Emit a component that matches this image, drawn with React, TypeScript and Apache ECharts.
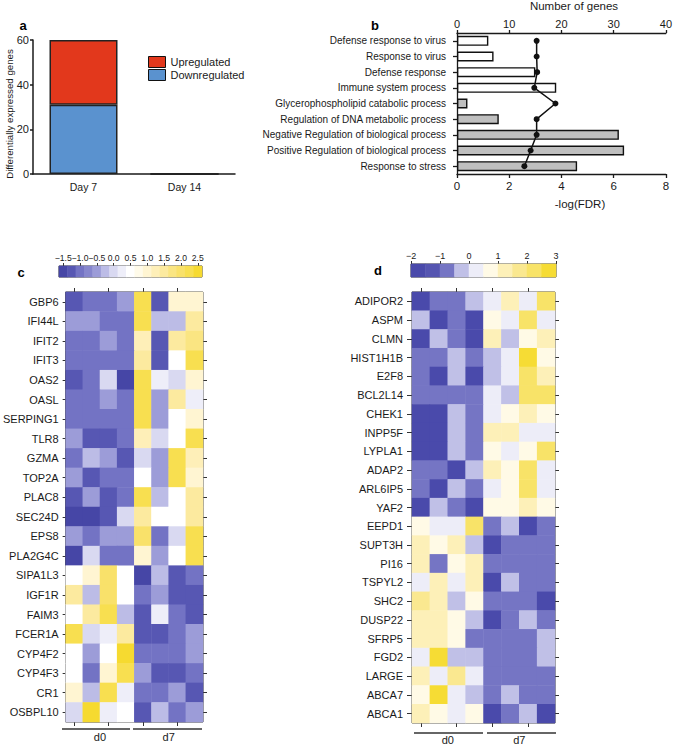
import React, { useEffect, useRef } from "react";
import * as echarts from "echarts";

const FONT = "'Liberation Sans', Arial, Helvetica, sans-serif";

// ---------- Panel a ----------
const days = ["Day 7", "Day 14"];
const downregulated = [31, 0];
const upregulated = [29, 0];
const countTicks = [0, 60, 20];
const countTitle = "Differentially expressed genes";

// ---------- Panel b ----------
const processes = [
  "Defense response to virus",
  "Response to virus",
  "Defense response",
  "Immune system process",
  "Glycerophospholipid catabolic process",
  "Regulation of DNA metabolic process",
  "Negative Regulation of biological process",
  "Positive Regulation of biological process",
  "Response to stress",
];
const processGroup = ["open", "open", "open", "open", "filled", "filled", "filled", "filled", "filled"];
const numberOfGenes = [6, 7, 15, 19, 2, 8, 31, 32, 23];
const negLogFDR = [3.05, 3.05, 3.07, 2.96, 3.77, 3.05, 3.05, 2.82, 2.58];
const genesTicks = [0, 40, 10];
const fdrTicks = [0, 8, 2];

// ---------- Panel c ----------
const sampleGroups = ["d0", "d7"];
const samples = ["d0-1", "d0-2", "d0-3", "d0-4", "d7-1", "d7-2", "d7-3", "d7-4"];
const cGenes = [
  "GBP6", "IFI44L", "IFIT2", "IFIT3", "OAS2", "OASL", "SERPING1", "TLR8", "GZMA", "TOP2A", "PLAC8",
  "SEC24D", "EPS8", "PLA2G4C", "SIPA1L3", "IGF1R", "FAIM3", "FCER1A", "CYP4F2", "CYP4F3", "CR1", "OSBPL10",
];
const cValues = [
  [-1.3, -0.9, -0.9, -0.5, 2.3, -1.2, 1.0, 1.0],
  [-0.5, -0.5, -0.9, -0.9, 2.3, -0.2, -0.2, 1.6],
  [-0.9, -0.9, -0.6, -0.9, 1.2, -1.2, 1.4, 1.8],
  [-0.9, -0.9, -0.9, -0.9, 1.5, -1.2, 0.6, 2.3],
  [-1.3, -0.9, 0.0, -1.4, 2.3, 0.2, 0.0, 1.0],
  [-0.9, -0.9, -0.6, -0.9, 2.3, -0.5, 1.4, 0.2],
  [-0.9, -0.9, -0.9, -0.9, 2.3, -0.5, 0.6, 0.9],
  [-0.5, -1.3, -1.3, -0.9, 1.2, 0.0, 0.6, 2.3],
  [-0.9, -0.3, -0.5, -1.3, 0.0, -0.5, 2.3, 1.2],
  [-0.5, -1.3, -0.9, -0.9, 0.6, -0.5, 2.3, 1.0],
  [-1.3, -0.5, -1.3, -0.9, 2.3, -0.2, 0.6, 1.4],
  [-1.4, -1.4, -1.3, 0.0, 1.4, 0.6, 0.6, 1.5],
  [-0.5, -0.9, -0.6, -0.6, 1.9, -0.9, 0.0, 2.3],
  [-1.4, 0.0, -0.9, -0.9, 1.0, -0.6, 0.6, 2.3],
  [0.6, 1.0, 1.9, 0.6, -1.5, -0.3, -1.3, -1.0],
  [1.5, -0.3, 1.9, 0.6, -1.0, -0.6, -1.3, -1.3],
  [0.6, 1.4, 2.2, -0.3, -1.3, 0.2, -1.0, -1.3],
  [2.2, 0.0, 0.2, 1.5, -1.3, -1.3, -1.0, -0.5],
  [0.6, -0.5, 0.6, 2.5, -1.0, -1.0, -1.0, -0.5],
  [0.6, -0.9, 0.9, 2.3, -0.5, -1.3, -1.3, -0.9],
  [0.9, -0.3, 2.2, 0.2, -0.9, -0.9, -0.5, -1.3],
  [0.0, 2.5, 0.2, 0.6, -1.3, -0.3, -0.9, -0.5],
];
const cScaleTicks = [-1.5, -1.0, -0.5, 0.0, 0.5, 1.0, 1.5, 2.0, 2.5];
const cBins = [-1.5, -1.25, -1.0, -0.75, -0.5, -0.25, 0.0, 0.25, 0.5, 0.75, 1.0, 1.25, 1.5, 1.75, 2.0, 2.25, 2.5];
const cBinColors = [
  "#4646A6", "#5757B3", "#7373C4", "#8686CD", "#9C9CD8", "#BCBCE6", "#D9D9F1", "#EEEEF9", "#FFFFFF",
  "#FFFBEA", "#FFF5D2", "#FEEFB8", "#FCEA9F", "#FAE582", "#F9E16A", "#F8DF50", "#F6DA30",
];

// ---------- Panel d ----------
const dGenes = [
  "ADIPOR2", "ASPM", "CLMN", "HIST1H1B", "E2F8", "BCL2L14", "CHEK1", "INPP5F", "LYPLA1", "ADAP2", "ARL6IP5", "YAF2",
  "EEPD1", "SUPT3H", "PI16", "TSPYL2", "SHC2", "DUSP22", "SFRP5", "FGD2", "LARGE", "ABCA7", "ABCA1",
];
const dValues = [
  [-1.7, -0.8, -0.8, -0.3, 0.2, 1.2, 0.2, 2.2],
  [-0.3, -1.7, -0.8, -1.7, 0.7, 0.2, 2.2, 0.2],
  [-1.7, -0.3, -0.8, -1.7, 1.2, -0.3, 0.7, 1.2],
  [-0.8, -0.8, -0.3, -0.8, -0.3, 0.2, 2.6, 0.7],
  [-0.8, -1.7, -0.3, -1.7, -0.3, 0.2, 2.2, 1.2],
  [-0.8, -0.8, -0.8, -0.8, 0.2, -0.3, 2.2, 2.2],
  [-1.7, -1.7, -0.3, -0.8, 0.2, 0.7, 1.2, 0.7],
  [-1.7, -1.7, -0.3, -0.8, 1.2, 1.2, 0.2, 0.2],
  [-1.7, -1.7, -0.3, -0.8, 0.7, 0.2, 0.7, 2.2],
  [-0.8, -0.8, -1.7, -0.3, 1.2, 0.7, 2.2, 0.2],
  [-0.8, -1.7, -0.3, -0.8, 0.2, 0.7, 2.2, 0.2],
  [-1.7, -0.3, -0.8, -1.7, 0.7, 0.7, 1.2, 0.7],
  [0.7, 0.2, 0.2, 2.2, -0.8, -0.3, -1.7, -0.8],
  [1.2, 0.7, 1.2, -0.3, -1.7, -0.8, -0.8, -0.8],
  [1.2, -0.8, 0.7, 1.2, -0.8, -0.8, -0.8, -0.8],
  [0.2, 1.2, 0.2, 1.2, -1.7, -0.3, -0.8, -0.8],
  [1.8, 1.2, -0.3, 0.7, -0.8, -0.8, -0.8, -1.7],
  [1.2, 1.2, 0.7, -0.3, -1.7, -0.8, -0.3, -0.8],
  [1.2, 1.2, 0.7, -0.8, -0.8, -0.8, -0.8, -0.3],
  [0.2, 2.6, -0.3, -0.3, -0.8, -0.8, -0.8, -0.3],
  [1.2, 0.2, 1.8, 0.2, -0.8, -0.8, -0.8, -0.8],
  [0.7, 2.6, 0.2, -0.3, -0.8, -0.3, -0.8, -0.8],
  [1.2, 0.7, 0.2, 0.7, -1.7, -0.8, -0.3, -1.7],
];
const dScaleTicks = [-2, -1, 0, 1, 2, 3];
const dBins = [-1.75, -1.25, -0.75, -0.25, 0.25, 0.75, 1.25, 1.75, 2.25, 2.75];
const dBinColors = [
  "#4A4AAB", "#5555B1", "#7575C4", "#C0C0E7", "#EDEDF8", "#FFFAE6", "#FDF0B8", "#FAE890", "#F8E368", "#F6DC34",
];

const minus = (s: string) => s.replace("-", "\u2212");
const toCells = (rows: number[][]) => {
  const out: number[][] = [];
  rows.forEach((r, y) => r.forEach((v, x) => out.push([x, y, v])));
  return out;
};

const INK = "#1a1a1a";

export default function App() {
  const ref = useRef<HTMLDivElement>(null);
  const aRef = useRef<HTMLDivElement>(null);
  const titleRef = useRef<HTMLDivElement>(null);
  useEffect(() => {
    if (!ref.current || !aRef.current || !titleRef.current) return;
    const chart = echarts.init(ref.current, undefined, { renderer: "svg" });
    const aChart = echarts.init(aRef.current, undefined, { renderer: "svg" });
    const titleChart = echarts.init(titleRef.current, undefined, { renderer: "svg" });

    const lab = (size: number, extra: any = {}) => ({ fontSize: size, color: INK, fontFamily: FONT, ...extra });
    const line = (w = 1, c = INK) => ({ lineStyle: { color: c, width: w } });

    const cHalf = (cBins[1] - cBins[0]) / 2;
    const dHalf = (dBins[1] - dBins[0]) / 2;

    const heatGridCommon = { show: true, borderColor: "#333", borderWidth: 1, backgroundColor: "transparent" };
    const minMax = { showMinLabel: true, showMaxLabel: true };

    // ---------- Panel a (own instance) ----------
    aChart.setOption({
      animation: false,
      backgroundColor: "transparent",
      grid: [{ left: 33, top: 40, width: 202, height: 134 }],
      legend: {
        data: ["Upregulated", "Downregulated"],
        left: 143,
        top: 51,
        orient: "vertical",
        icon: "rect",
        itemWidth: 17,
        itemHeight: 11,
        itemGap: 1,
        textStyle: { fontSize: 11, color: INK, fontFamily: FONT },
        itemStyle: { borderColor: "#111", borderWidth: 1 },
      },
      xAxis: [{
        type: "category", data: days,
        axisLine: { lineStyle: { color: INK, width: 1.5 } },
        axisTick: { alignWithLabel: true, length: 4, lineStyle: { color: INK, width: 1.5 } },
        axisLabel: { fontSize: 10.5, color: INK, margin: 7 },
      }],
      yAxis: [{
        type: "value", min: countTicks[0], max: countTicks[1], interval: countTicks[2],
        axisLine: { show: true, lineStyle: { color: INK, width: 1.5 } },
        axisTick: { show: true, length: 3, lineStyle: { color: INK, width: 1.5 } },
        splitLine: { show: false },
        axisLabel: { fontSize: 11, color: INK, margin: 4 },
      }],
      series: [
        {
          name: "Downregulated", type: "bar", stack: "deg", data: downregulated,
          barWidth: 68, itemStyle: { color: "#5A92CF", borderColor: "#222", borderWidth: 1.5 },
        },
        {
          name: "Upregulated", type: "bar", stack: "deg", data: upregulated,
          barWidth: 68, itemStyle: { color: "#E2381C", borderColor: "#222", borderWidth: 1.5 },
        },
      ],
      graphic: [
        { type: "text", x: 23, y: 25, style: { text: "a", font: `bold 13px ${FONT}`, fill: "#000", textAlign: "center", textVerticalAlign: "middle" } },
      ],
    });

    const option: any = {
      animation: false,
      textStyle: { fontFamily: FONT },
      grid: [
        { left: 457, top: 33, width: 213, height: 141 },
        { left: 60, top: 292, width: 143, height: 430, ...heatGridCommon },
        { left: 412, top: 292, width: 143, height: 431, ...heatGridCommon },
        { left: 59, top: 266, width: 143, height: 11, ...heatGridCommon },
        { left: 411, top: 264, width: 145, height: 13, ...heatGridCommon },
      ],
      xAxis: [
        // 0 panel b top (genes)
        {
          gridIndex: 0, type: "value", position: "top", min: genesTicks[0], max: genesTicks[1], interval: genesTicks[2],
          axisLine: { show: true, ...line(1.3) }, axisTick: { show: true, length: 3, ...line(1.3) },
          splitLine: { show: false }, axisLabel: lab(11, { margin: 4, ...minMax }),
        },
        // 1 panel b bottom (fdr)
        {
          gridIndex: 0, type: "value", position: "bottom", min: fdrTicks[0], max: fdrTicks[1], interval: fdrTicks[2],
          axisLine: { show: true, ...line(1.3) }, axisTick: { show: true, length: 4, ...line(1.3) },
          splitLine: { show: false }, axisLabel: lab(11.5, { margin: 6, ...minMax }),
        },
        // 2 heat c bottom ticks
        {
          gridIndex: 1, type: "category", data: samples, position: "bottom",
          axisLine: { show: false }, axisTick: { show: true, alignWithLabel: true, length: 4, ...line(1, "#333") },
          axisLabel: { show: false }, splitLine: { show: false },
        },
        // 3 heat c top ticks
        {
          gridIndex: 1, type: "category", data: samples, position: "top",
          axisLine: { show: false }, axisTick: { show: true, alignWithLabel: true, length: 4, ...line(1, "#333") },
          axisLabel: { show: false }, splitLine: { show: false },
        },
        // 4 heat c group labels
        {
          gridIndex: 1, type: "category", data: sampleGroups, position: "bottom",
          axisLine: { show: false }, axisTick: { show: false }, axisLabel: lab(11, { margin: 9 }),
        },
        // 5 heat d bottom ticks
        {
          gridIndex: 2, type: "category", data: samples, position: "bottom",
          axisLine: { show: false }, axisTick: { show: true, alignWithLabel: true, length: 4, ...line(1, "#333") },
          axisLabel: { show: false }, splitLine: { show: false },
        },
        // 6 heat d top ticks
        {
          gridIndex: 2, type: "category", data: samples, position: "top",
          axisLine: { show: false }, axisTick: { show: true, alignWithLabel: true, length: 4, ...line(1, "#333") },
          axisLabel: { show: false }, splitLine: { show: false },
        },
        // 7 heat d group labels
        {
          gridIndex: 2, type: "category", data: sampleGroups, position: "bottom",
          axisLine: { show: false }, axisTick: { show: false }, axisLabel: lab(11, { margin: 11 }),
        },
        // 8 colorbar c bins
        { gridIndex: 3, type: "category", data: cBins.map(String), show: false },
        // 9 colorbar c scale
        {
          gridIndex: 3, type: "value", position: "top",
          min: cBins[0] - cHalf, max: cBins[cBins.length - 1] + cHalf,
          axisLine: { show: false }, splitLine: { show: false },
          axisTick: { show: true, length: 3, customValues: cScaleTicks, ...line(1, "#333") },
          axisLabel: lab(8.6, {
            margin: 4, customValues: cScaleTicks, hideOverlap: false, ...minMax,
            formatter: (v: number) => minus(v.toFixed(1)),
          }),
        },
        // 10 colorbar d bins
        { gridIndex: 4, type: "category", data: dBins.map(String), show: false },
        // 11 colorbar d scale
        {
          gridIndex: 4, type: "value", position: "top",
          min: dBins[0] - dHalf, max: dBins[dBins.length - 1] + dHalf,
          axisLine: { show: false }, splitLine: { show: false },
          axisTick: { show: true, length: 3, customValues: dScaleTicks, ...line(1, "#333") },
          axisLabel: lab(9, { margin: 4, customValues: dScaleTicks, ...minMax, formatter: (v: number) => minus(String(v)) }),
        },
      ],
      yAxis: [
        // 0 panel b
        {
          gridIndex: 0, type: "category", data: processes, inverse: true,
          axisLine: { show: true, ...line(1.3) }, axisTick: { show: true, alignWithLabel: true, length: 4, ...line(1.3) },
          axisLabel: lab(10, { margin: 11 }),
        },
        // 1 heat c left
        {
          gridIndex: 1, type: "category", data: cGenes, inverse: true, position: "left",
          axisLine: { show: false }, axisTick: { show: true, alignWithLabel: true, length: 3, ...line(1, "#333") },
          axisLabel: lab(11, { margin: 7 }), splitLine: { show: false },
        },
        // 2 heat c right
        {
          gridIndex: 1, type: "category", data: cGenes, inverse: true, position: "right",
          axisLine: { show: false }, axisTick: { show: true, alignWithLabel: true, length: 4, ...line(1, "#333") },
          axisLabel: { show: false }, splitLine: { show: false },
        },
        // 3 heat d left
        {
          gridIndex: 2, type: "category", data: dGenes, inverse: true, position: "left",
          axisLine: { show: false }, axisTick: { show: true, alignWithLabel: true, length: 5, ...line(1, "#333") },
          axisLabel: lab(11, { margin: 9 }), splitLine: { show: false },
        },
        // 4 heat d right
        {
          gridIndex: 2, type: "category", data: dGenes, inverse: true, position: "right",
          axisLine: { show: false }, axisTick: { show: true, alignWithLabel: true, length: 4, ...line(1, "#333") },
          axisLabel: { show: false }, splitLine: { show: false },
        },
        // 5 colorbar c
        { gridIndex: 3, type: "category", data: ["scale"], show: false },
        // 6 colorbar d
        { gridIndex: 4, type: "category", data: ["scale"], show: false },
      ],
      visualMap: [
        {
          type: "piecewise", show: false, seriesIndex: [2, 4], dimension: 2,
          pieces: cBins.map((c, i) => ({ gte: c - cHalf, lt: c + cHalf, color: cBinColors[i] })),
        },
        {
          type: "piecewise", show: false, seriesIndex: [3, 5], dimension: 2,
          pieces: dBins.map((c, i) => ({ gte: c - dHalf, lt: c + dHalf, color: dBinColors[i] })),
        },
      ],
      series: [
        {
          name: "Number of genes", type: "bar", xAxisIndex: 0, yAxisIndex: 0, barWidth: 10,
          data: numberOfGenes.map((v, i) => ({
            value: v,
            itemStyle: { color: processGroup[i] === "open" ? "#FFFFFF" : "#BFBFBF", borderColor: "#111", borderWidth: 1.4 },
          })),
        },
        {
          name: "-log(FDR)", type: "line", xAxisIndex: 1, yAxisIndex: 0, z: 5,
          data: negLogFDR.map((v, i) => [v, i]),
          symbol: "circle", symbolSize: 6,
          lineStyle: { color: "#111", width: 1.5 }, itemStyle: { color: "#111" },
        },
        {
          name: "heat c", type: "heatmap", xAxisIndex: 2, yAxisIndex: 1, data: toCells(cValues),
          emphasis: { disabled: true },
        },
        {
          name: "heat d", type: "heatmap", xAxisIndex: 5, yAxisIndex: 3, data: toCells(dValues),
          emphasis: { disabled: true },
        },
        {
          name: "scale c", type: "heatmap", xAxisIndex: 8, yAxisIndex: 5,
          data: cBins.map((v, i) => [i, 0, v]), emphasis: { disabled: true },
        },
        {
          name: "scale d", type: "heatmap", xAxisIndex: 10, yAxisIndex: 6,
          data: dBins.map((v, i) => [i, 0, v]), emphasis: { disabled: true },
        },
      ],
      graphic: [
        { type: "text", x: 375, y: 25, style: { text: "b", font: `bold 13px ${FONT}`, fill: "#000", textAlign: "center", textVerticalAlign: "middle" } },
        { type: "text", x: 21, y: 272, style: { text: "c", font: `bold 13px ${FONT}`, fill: "#000", textAlign: "center", textVerticalAlign: "middle" } },
        { type: "text", x: 378, y: 270, style: { text: "d", font: `bold 13px ${FONT}`, fill: "#000", textAlign: "center", textVerticalAlign: "middle" } },
        { type: "text", x: 574, y: 6, style: { text: "Number of genes", font: `11.5px ${FONT}`, fill: INK, textAlign: "center", textVerticalAlign: "middle" } },
        { type: "text", x: 580, y: 204, style: { text: "-log(FDR)", font: `11.5px ${FONT}`, fill: INK, textAlign: "center", textVerticalAlign: "middle" } },
        { type: "line", shape: { x1: 62, y1: 729, x2: 130, y2: 729 }, style: { stroke: "#333", lineWidth: 1.5 } },
        { type: "line", shape: { x1: 133, y1: 729, x2: 202, y2: 729 }, style: { stroke: "#333", lineWidth: 1.5 } },
        { type: "line", shape: { x1: 414, y1: 733, x2: 483, y2: 733 }, style: { stroke: "#333", lineWidth: 1.5 } },
        { type: "line", shape: { x1: 487, y1: 733, x2: 556, y2: 733 }, style: { stroke: "#333", lineWidth: 1.5 } },
      ],
    };

    chart.setOption(option);

    titleChart.setOption({
      animation: false,
      backgroundColor: "transparent",
      graphic: [
        {
          type: "text", x: 9, y: 114, rotation: Math.PI / 2,
          style: { text: countTitle, font: `9.7px ${FONT}`, fill: INK, textAlign: "center", textVerticalAlign: "middle" },
        },
      ],
    });

    return () => {
      chart.dispose();
      aChart.dispose();
      titleChart.dispose();
    };
  }, []);

  return (
    <>
      <div
        ref={ref}
        style={{ position: "absolute", left: 0, top: 0, width: 675, height: 746, background: "#fff" }}
      />
      <div
        ref={aRef}
        style={{ position: "absolute", left: 0, top: 0, width: 248, height: 205, pointerEvents: "none" }}
      />
      <div
        ref={titleRef}
        style={{ position: "absolute", left: 0, top: 0, width: 16, height: 200, pointerEvents: "none" }}
      />
    </>
  );
}
